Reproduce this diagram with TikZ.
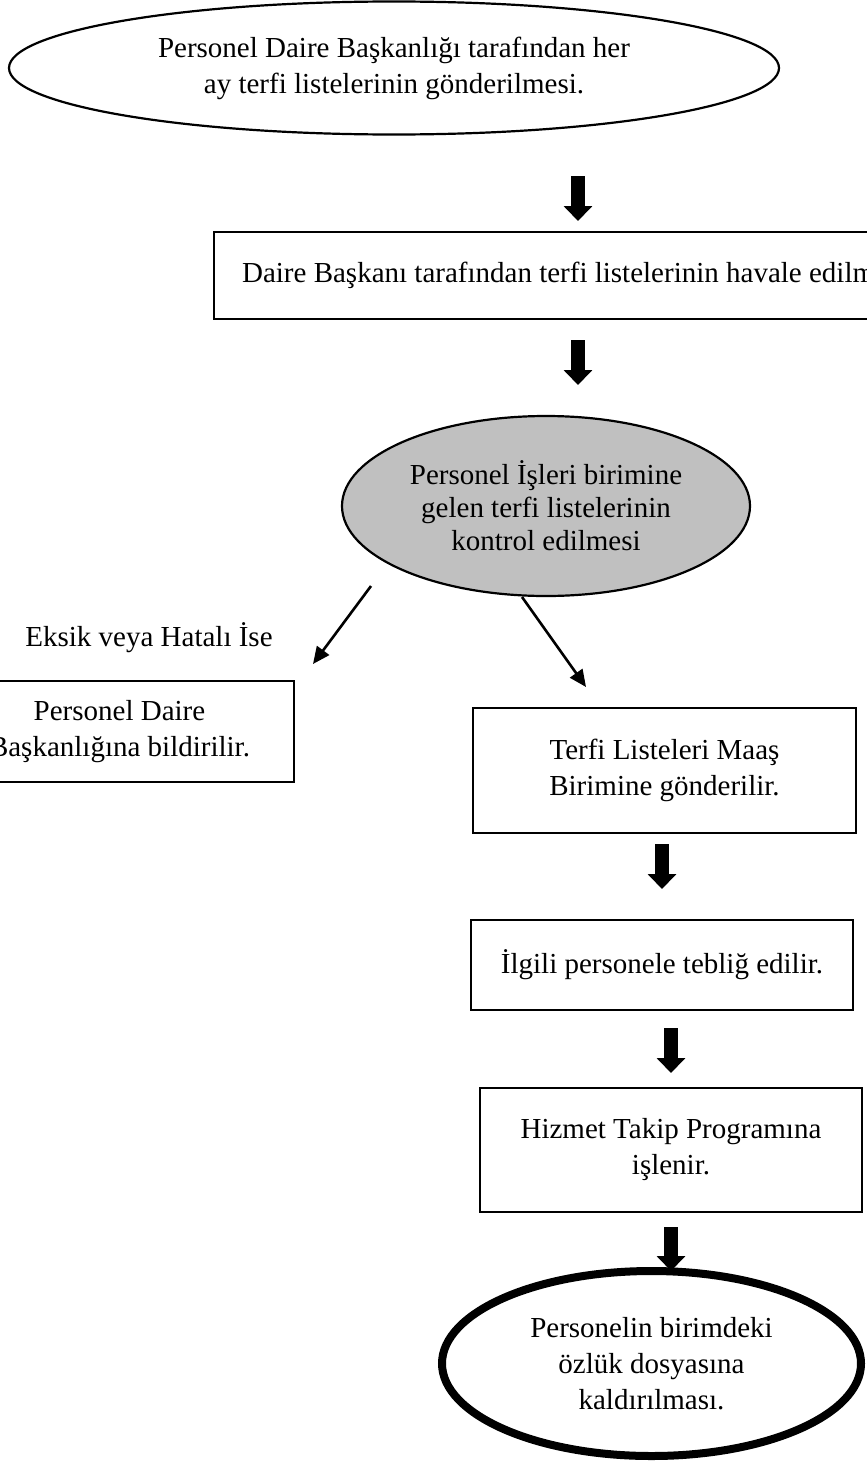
\documentclass[tikz,border=0pt]{standalone}
\usepackage{fontspec}
\setmainfont{Liberation Serif}
\usetikzlibrary{shapes.geometric,arrows.meta}
\begin{document}
\begin{tikzpicture}[x=1pt,y=-1pt,
  txt/.style={font=\fontsize{29}{36}\selectfont, align=center, inner sep=0pt},
  procbox/.style={txt, draw, line width=2.2pt, rectangle},
  ovalnode/.style={txt, draw, ellipse, line width=2.2pt},
  blockarrow/.style={line width=14pt, -{Triangle[width=28pt,length=15pt]}},
  thinarrow/.style={line width=2.6pt, -{Triangle[width=15pt,length=17pt]}}
]
\useasboundingbox (0,0) rectangle (867,1464);
\clip (0,0) rectangle (867,1464);
\fill[white] (0,0) rectangle (867,1464);

% nodes
\node[ovalnode, minimum width=770pt, minimum height=133pt] (start) at (394,68)
  {Personel Daire Başkanlığı tarafından her\\ay terfi listelerinin gönderilmesi.};

\node[procbox, anchor=west, minimum height=87pt, inner xsep=28pt] (havale) at (213,275.5)
  {Daire Başkanı tarafından terfi listelerinin havale edilmesi.};

\node[ovalnode, fill={rgb,255:red,192;green,192;blue,192}, minimum width=408pt, minimum height=180pt,
  font=\fontsize{29}{33}\selectfont] (kontrol) at (546,506)
  {Personel İşleri birimine\\gelen terfi listelerinin\\kontrol edilmesi};

\node[txt] (eksik) at (149,638) {Eksik veya Hatalı İse};

\node[procbox, minimum width=349pt, minimum height=101pt] (bildir) at (119.5,731.5)
  {Personel Daire\\Başkanlığına bildirilir.};

\node[procbox, minimum width=383pt, minimum height=125pt] (maas) at (664.5,770.5)
  {Terfi Listeleri Maaş\\Birimine gönderilir.};

\node[procbox, minimum width=382pt, minimum height=90pt] (teblig) at (662,965)
  {İlgili personele tebliğ edilir.};

\node[procbox, minimum width=382pt, minimum height=124pt] (hizmet) at (671,1150)
  {Hizmet Takip Programına\\işlenir.};

% arrow end points
\coordinate (a1s) at (578,176);  \coordinate (a1e) at (578,221);
\coordinate (a2s) at (578,340);  \coordinate (a2e) at (578,385);
\coordinate (a3s) at (662,844);  \coordinate (a3e) at (662,889);
\coordinate (a4s) at (671,1028); \coordinate (a4e) at (671,1073);
\coordinate (a5s) at (671,1227); \coordinate (a5e) at (671,1271);
\coordinate (l1s) at (371,586);  \coordinate (l1e) at (313,664);
\coordinate (r1s) at (522,597);  \coordinate (r1e) at (586,687);

\draw[blockarrow] (a1s) -- (a1e);
\draw[blockarrow] (a2s) -- (a2e);
\draw[blockarrow] (a3s) -- (a3e);
\draw[blockarrow] (a4s) -- (a4e);
\draw[blockarrow] (a5s) -- (a5e);
\draw[thinarrow] (l1s) -- (l1e);
\draw[thinarrow] (r1s) -- (r1e);

\node[ovalnode, line width=8pt, minimum width=419pt, minimum height=185pt] (son) at (651.5,1363.5)
  {Personelin birimdeki\\özlük dosyasına\\kaldırılması.};
\end{tikzpicture}
\end{document}
